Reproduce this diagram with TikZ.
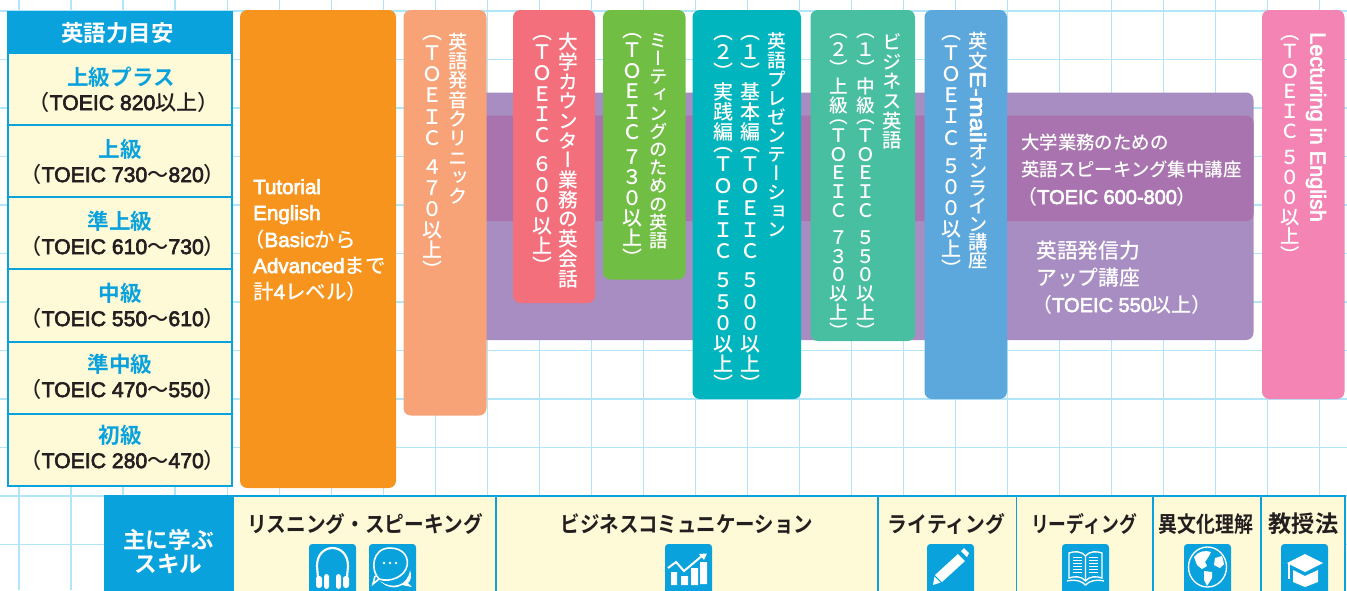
\documentclass[tikz,border=0pt]{standalone}
\usepackage{fontspec}
\usepackage{graphicx}
\setmainfont{Liberation Sans}
\newfontfamily\lmed{Liberation Sans}[RawFeature={embolden=3}]
\newfontfamily\jb{Noto Sans CJK JP Bold}
\newfontfamily\jm{Noto Sans CJK JP Medium}
\newfontfamily\jv[RawFeature=+vert]{Noto Sans CJK JP Medium}
\definecolor{gridc}{HTML}{B2E5F8}
\definecolor{skyc}{HTML}{0AA2DD}
\definecolor{creamc}{HTML}{FEF9D6}
\definecolor{inkc}{HTML}{231F20}
\definecolor{orangec}{HTML}{F7941E}
\definecolor{peachc}{HTML}{F7A277}
\definecolor{redc}{HTML}{F36F7B}
\definecolor{greenc}{HTML}{71BE45}
\definecolor{tealc}{HTML}{00B5BD}
\definecolor{mintc}{HTML}{47BFA0}
\definecolor{bluec}{HTML}{5CA7DC}
\definecolor{pinkc}{HTML}{F384B3}
\definecolor{purplec}{HTML}{A78DC2}
\definecolor{darkpc}{HTML}{A873AE}
\newcommand\J[1]{{\jm #1}}
\newcommand\LP{\hspace{-.45em}{\jm （}}
\newcommand\RP{{\jm ）}\hspace{-.45em}}
% vertical setting: one upright row per character
\newdimen\vpitch \newdimen\vkanji \newdimen\vlatin \newdimen\vgap
\newcommand\A{\vpitch=\vlatin}
\newcommand\B{\vpitch=\vkanji}
\newcommand\Sp{\kern\vgap}
\newcommand\Row[1]{\vbox to\vpitch{\vss\hbox{\vrule height .88em depth .12em width 0pt\hbox to 1em{\hss #1\hss}}\vss}}
\newcommand\RotRow[2][1]{\hbox to 1em{\hss\rotatebox[origin=c]{-90}{\scalebox{#1}[1]{\lmed #2}}\hss}}
\newcommand\EmailRow{\RotRow[1.15]{\fontsize{16.5}{16}\selectfont E-mail}}
\def\VSend{\VSend}
\def\VSloop#1{\ifx#1\VSend\let\VSnext\relax\else
  \ifcat\relax\noexpand#1#1\else
    \ifx#1（\kern-.42em\fi
    \Row{#1}\fi
  \let\VSnext\VSloop\fi\VSnext}
% #1 kanji pitch px, #2 letter pitch px, #3 gap px, #4 font size pt, #5 text
\newcommand\VT[5]{\vbox{\offinterlineskip\fontsize{#4}{#4}\jv\selectfont
  \vkanji=#1\dimexpr 0.75pt\relax \vlatin=#2\dimexpr 0.75pt\relax \vgap=#3\dimexpr 0.75pt\relax \vpitch=\vkanji
  \VSloop#5\VSend}}
\tikzset{
  x=0.75pt,y=-0.75pt,
  gridline/.style={draw=gridc,line width=0.85pt},
  roundbox/.style={rounded corners=5.5pt,inner sep=0pt,outer sep=0pt,anchor=north west,draw=none},
  cellbox/.style={inner sep=0pt,outer sep=0pt,anchor=north west,draw=skyc,line width=1.15pt,fill=creamc},
  iconbox/.style={rounded corners=2.5pt,inner sep=0pt,outer sep=0pt,anchor=north west,fill=skyc,draw=none},
  vcol/.style={anchor=north,inner sep=0pt,text=white},
  level/.style={text=skyc,font=\fontsize{16.2}{16}\selectfont\jb,inner sep=0pt,anchor=center},
  score/.style={text=inkc,font=\fontsize{15.9}{15}\selectfont\lmed,inner sep=0pt,anchor=center},
  wlabel/.style={text=white,font=\fontsize{15.4}{15}\selectfont\lmed,inner sep=0pt,anchor=base west},
  wplain/.style={text=white,inner sep=0pt,anchor=base west},
  skill/.style={text=inkc,font=\fontsize{16.5}{16}\selectfont\jb,inner sep=0pt,anchor=center},
  ico/.style={white,line width=1.2pt},
}
\newcommand\mybox[7][roundbox]{\node[#1,fill=#7,minimum width={(#4-#2)*0.75pt},minimum height={(#5-#3)*0.75pt}] (#6) at (#2,#3) {};}
\newcommand\mycell[6]{\node[cellbox,minimum width={(#4-#2)*0.75pt},minimum height={(#5-#3)*0.75pt},#6] (#1) at (#2,#3) {};}
\begin{document}
\begin{tikzpicture}
\useasboundingbox (0,0) rectangle (1347,590);
\clip (0,0) rectangle (1347,590);
\fill[white] (0,0) rectangle (1347,590);
% grid
\foreach \i in {0,...,25} {\draw[gridline] ({19+52.02*\i},0) -- ({19+52.02*\i},590);}
\foreach \i in {0,...,11} {\draw[gridline] (0,{11+48.5*\i}) -- (1347,{11+48.5*\i});}
% purple bands
\mybox{440}{92.5}{1253.5}{340}{bandA}{purplec}
\mybox{440}{115.7}{1253.5}{221}{bandB}{darkpc}
% table
\mycell{hdr}{8}{12}{232}{53}{fill=skyc}
\mycell{r1}{8}{53}{232}{125}{}
\mycell{r2}{8}{125}{232}{197}{}
\mycell{r3}{8}{197}{232}{269}{}
\mycell{r4}{8}{269}{232}{342}{}
\mycell{r5}{8}{342}{232}{414}{}
\mycell{r6}{8}{414}{232}{486}{}
\node[level,text=white,font=\fontsize{16.8}{16}\selectfont\jb] (thdr) at (117.5,33) {英語力目安};
\node[level] (t1a) at (121,77) {上級プラス};
\node[score] (t1b) at (128.5,102) {\LP TOEIC 820\J{以上}\RP};
\node[level] (t2a) at (120,149) {上級};
\node[score] (t2b) at (127.5,174) {\LP TOEIC 730\J{〜}820\RP};
\node[level] (t3a) at (120,221) {準上級};
\node[score] (t3b) at (127.5,246) {\LP TOEIC 610\J{〜}730\RP};
\node[level] (t4a) at (120,293) {中級};
\node[score] (t4b) at (127.5,318) {\LP TOEIC 550\J{〜}610\RP};
\node[level] (t5a) at (120,364) {準中級};
\node[score] (t5b) at (127.5,389) {\LP TOEIC 470\J{〜}550\RP};
\node[level] (t6a) at (120,435) {初級};
\node[score] (t6b) at (127.5,460) {\LP TOEIC 280\J{〜}470\RP};
% strips
\mybox{240}{10}{396}{488}{sOrange}{orangec}
\mybox{403.5}{10}{486.5}{415.5}{sPeach}{peachc}
\mybox{513}{10}{595}{303}{sRed}{redc}
\mybox{603}{10}{685.5}{279.5}{sGreen}{greenc}
\mybox{692.5}{10}{801}{399}{sTeal}{tealc}
\mybox{810.5}{10}{915}{341}{sMint}{mintc}
\mybox{924.5}{10}{1007}{399}{sBlue}{bluec}
\mybox{1262}{10}{1344.5}{399}{sPink}{pinkc}
% orange text
\node[wlabel] (o1) at (253,194) {Tutorial};
\node[wlabel] (o2) at (253,220) {English};
\node[wlabel] (o3) at (253,247) {\LP Basic\J{から}};
\node[wlabel] (o4) at (253,273) {Advanced\J{まで}};
\node[wlabel] (o5) at (253,299) {\J{計}4\J{レベル}\RP};
% vertical text
\node[vcol] (p1) at (458,32) {\VT{19.3}{19.3}{0}{14.5}{英語発音クリニック}};
\node[vcol] (p2) at (432,30) {\VT{20}{21.4}{7}{15}{（\A ＴＯＥＩＣ\Sp ４７０\B 以上）}};
\node[vcol] (q1) at (568,32) {\VT{19.7}{19.7}{0}{14.8}{大学カウンター業務の英会話}};
\node[vcol] (q2) at (542,30) {\VT{20}{20.7}{8}{15}{（\A ＴＯＥＩＣ\Sp ６００\B 以上）}};
\node[vcol] (g1) at (659,31) {\VT{18.2}{18.2}{0}{13.7}{ミーティングのための英語}};
\node[vcol] (g2) at (632,28) {\VT{20}{20.5}{4}{15}{（\A ＴＯＥＩＣ\Sp ７３０\B 以上）}};
\node[vcol] (e1) at (777,32) {\VT{18.8}{18.8}{0}{14.1}{英語プレゼンテーション}};
\node[vcol] (e2) at (750,30) {\VT{20}{21.7}{7}{15}{（１）基本編（\A ＴＯＥＩＣ\Sp ５００\B 以上）}};
\node[vcol] (e3) at (723,30) {\VT{20}{21.7}{7}{15}{（２）実践編（\A ＴＯＥＩＣ\Sp ５５０\B 以上）}};
\node[vcol] (b1) at (892,32) {\VT{19.7}{19.7}{0}{14.5}{ビジネス英語}};
\node[vcol] (b2) at (866,29) {\VT{18.7}{18.8}{8}{14}{（１）中級（\A ＴＯＥＩＣ\Sp ５５０\B 以上）}};
\node[vcol] (b3) at (839,29) {\VT{18.7}{18.8}{8}{14}{（２）上級（\A ＴＯＥＩＣ\Sp ７３０\B 以上）}};
\node[vcol] (m1) at (978,31) {\VT{20}{18}{0}{14.5}{英文\EmailRow\A オンライン講座}};
\node[vcol] (m2) at (951,30) {\VT{20.2}{21.2}{7}{15}{（\A ＴＯＥＩＣ\Sp ５００\B 以上）}};
\node[vcol] (l1) at (1316,32) {\RotRow{\fontsize{16.3}{16}\selectfont Lecturing in English}};
\node[vcol] (l2) at (1290,30) {\VT{19}{20}{6.5}{14.5}{（\A ＴＯＥＩＣ\Sp ５００\B 以上）}};
% band text
\node[wplain,font=\fontsize{13.8}{15}\selectfont\jm] (d1) at (1021,149) {大学業務のための};
\node[wplain,font=\fontsize{13.8}{15}\selectfont\jm] (d2) at (1021,176) {英語スピーキング集中講座};
\node[wplain,font=\fontsize{15}{15}\selectfont\lmed] (d3) at (1026,204) {\LP TOEIC 600-800\RP};
\node[wplain,font=\fontsize{15.6}{15}\selectfont\jm] (f1) at (1036,258) {英語発信力};
\node[wplain,font=\fontsize{15.6}{15}\selectfont\jm] (f2) at (1036,285) {アップ講座};
\node[wplain,font=\fontsize{15}{15}\selectfont\lmed] (f3) at (1041,312) {\LP TOEIC 550\J{以上}\RP};
% skills band
\mycell{k0}{104.5}{496}{233}{600}{fill=skyc}
\mycell{k1}{233}{496}{496}{600}{}
\mycell{k2}{496}{496}{878}{600}{}
\mycell{k3}{878}{496}{1016.5}{600}{}
\mycell{k4}{1016.5}{496}{1153}{600}{}
\mycell{k5}{1153}{496}{1261}{600}{}
\mycell{k6}{1261}{496}{1345}{600}{}
\node[skill,text=white,font=\fontsize{17}{16}\selectfont\jb] (k0a) at (168.5,540) {主に学ぶ};
\node[skill,text=white,font=\fontsize{17}{16}\selectfont\jb] (k0b) at (168.5,564) {スキル};
\node[skill] (k1a) at (365,524) {\scalebox{.895}[1]{リスニング・スピーキング}};
\node[skill] (k2a) at (687,524) {\scalebox{.885}[1]{ビジネスコミュニケーション}};
\node[skill] (k3a) at (946.5,524) {\scalebox{.9}[1]{ライティング}};
\node[skill] (k4a) at (1084,524) {\scalebox{.81}[1]{リーディング}};
\node[skill] (k5a) at (1206,524) {\scalebox{.86}[1]{異文化理解}};
\node[skill,font=\fontsize{17.4}{16}\selectfont\jb] (k6a) at (1303.5,524) {教授法};
% icons
\mybox[iconbox]{309}{544}{356}{600}{iHead}{skyc}
\mybox[iconbox]{369}{544}{416}{600}{iChat}{skyc}
\mybox[iconbox]{665}{544}{712}{600}{iChart}{skyc}
\mybox[iconbox]{927}{544}{974}{600}{iPen}{skyc}
\mybox[iconbox]{1062}{544}{1109}{600}{iBook}{skyc}
\mybox[iconbox]{1184}{544}{1231}{600}{iGlobe}{skyc}
\mybox[iconbox]{1281}{544}{1328}{600}{iCap}{skyc}
% headphones
\draw[ico,line width=1.6pt] (318,578) -- (317,566) .. controls (317,542) and (348,542) .. (348,566) -- (347,578);
\fill[white,rounded corners=2pt] (316,576) rectangle (322,588) (324,574) rectangle (329,589) (336,574) rectangle (341,589) (343,576) rectangle (349,588);
% chat
\fill[white] (380,581) .. controls (392,590) and (408,586) .. (410,570) .. controls (412,575) and (411,581) .. (408,583) -- (412,587) -- (402,585) .. controls (395,589) and (387,588) .. (380,581) -- cycle;
\draw[ico] (379,579) .. controls (370,570) and (372,548) .. (390,548) .. controls (404,548) and (409,558) .. (407,566) .. controls (405,576) and (391,583) .. (379,579) -- (373,584) -- (375,576);
\fill[white] (384,563) circle[radius=1.4] (390,563) circle[radius=1.4] (396,563) circle[radius=1.4];
% chart
\fill[white] (671,572) rectangle (677,585) (681,576) rectangle (688,585) (691,568) rectangle (698,585) (700,562) rectangle (707,584);
\draw[ico,line width=1.5pt] (668,568) -- (676,562) -- (684,571) -- (703,555);
\fill[white] (699,554) -- (707,553.5) -- (704,560) -- cycle;
% pencil
\fill[white] (958,554) -- (965,561) -- (942,582) -- (935,575) -- cycle;
\fill[white] (961,551) -- (964,548) -- (969,553) -- (967,557) -- cycle;
\fill[white] (934.5,576.5) -- (940.5,582.5) -- (933,585) -- cycle;
% book
\draw[ico,line width=1pt] (1085.5,556) .. controls (1082,551) and (1074,551) .. (1069,553) -- (1069,578) .. controls (1074,576) and (1082,576) .. (1085.5,581) .. controls (1089,576) and (1097,576) .. (1102,578) -- (1102,553) .. controls (1097,551) and (1089,551) .. (1085.5,556) -- (1085.5,581);
\foreach \yy in {557,560,563,566,569,572} {
  \draw[white,line width=.7pt] (1073,\yy) -- (1082,\yy);
  \draw[white,line width=.7pt] (1089,\yy) -- (1098,\yy);
}
\draw[ico,line width=1pt] (1067,581) .. controls (1075,579) and (1082,581) .. (1085.5,585) .. controls (1089,581) and (1096,579) .. (1104,581);
% globe
\draw[ico,line width=1pt] (1207.5,567) ellipse[x radius=19,y radius=20];
\fill[white] (1194,557) .. controls (1198,551) and (1206,550) .. (1211,552) -- (1209,556) -- (1205,562) -- (1207,566) -- (1202,569) -- (1197,565) -- cycle;
\fill[white] (1204,571) -- (1212,572) -- (1212,578) -- (1207,586) -- (1204,580) -- cycle;
\fill[white] (1215,558) -- (1222,556) -- (1224,564) -- (1220,568) -- (1214,565) -- cycle;
% cap
\fill[white] (1305,554) -- (1323,563) -- (1305,572) -- (1287,563) -- cycle;
\fill[white] (1293,570) -- (1305,576) -- (1318,570) -- (1318,582) -- (1305,587) -- (1293,582) -- cycle;
\draw[ico,line width=.8pt] (1289,563) -- (1289,579);
\end{tikzpicture}
\end{document}
